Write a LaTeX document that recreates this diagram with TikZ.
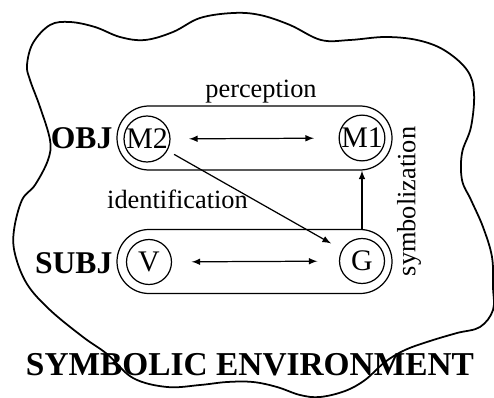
\documentclass[tikz,border=0pt]{standalone}
\usepackage{fontspec}
\setmainfont{Liberation Serif}
\usepackage{tikz}
\usetikzlibrary{arrows}

\begin{document}
\begin{tikzpicture}[line width=0.7pt,
    sym/.style={draw=black, circle, minimum size=0.9cm, inner sep=0pt, font=\fontsize{17}{17}\selectfont},
    lane/.style={draw=black, rounded corners=0.64cm, minimum width=5.5cm, minimum height=1.28cm},
    side/.style={anchor=east, inner sep=0pt, font=\fontsize{18}{18}\selectfont\bfseries},
    rel/.style={inner sep=0pt, font=\fontsize{15}{15}\selectfont}]
    \useasboundingbox (0,0) rectangle (9.88,-7.94);

    % environment outline
    \draw[line width=1pt] plot[smooth cycle, tension=0.6] coordinates {
        (0.54,-1.30) (0.66,-0.86) (1.00,-0.50) (1.40,-0.44) (1.90,-0.54) (2.40,-0.74) (2.90,-0.80)
        (3.46,-0.64) (4.00,-0.36) (4.66,-0.26) (5.20,-0.30) (5.80,-0.50) (6.42,-0.80) (7.00,-0.80)
        (7.70,-0.74) (8.34,-0.80) (8.88,-1.00) (9.34,-1.40) (9.48,-1.86) (9.42,-2.54) (9.24,-3.06)
        (9.24,-3.60) (9.42,-4.00) (9.66,-4.54) (9.84,-5.14) (9.86,-5.74) (9.86,-6.20) (9.60,-6.54)
        (9.14,-6.66) (8.60,-6.82) (8.10,-7.00) (7.70,-7.24) (7.30,-7.60) (6.90,-7.82) (6.40,-7.94)
        (6.00,-7.90) (5.54,-7.74) (5.06,-7.64) (4.54,-7.64) (4.00,-7.70) (3.34,-7.74) (2.66,-7.56)
        (2.14,-7.08) (1.66,-6.74) (1.00,-6.20) (0.54,-5.68) (0.30,-5.08) (0.28,-4.60) (0.44,-4.00)
        (0.70,-3.70) (0.96,-3.20) (1.00,-2.80) (0.80,-2.14) (0.60,-1.60)};

    \node[lane] (box_obj)  at (5.09, -2.76) {};
    \node[lane] (box_subj) at (5.09, -5.23) {};

    \node[sym] (obj_m2)  at (2.94, -2.78) {M2};
    \node[sym] (obj_m1)  at (7.24, -2.76) {M1};
    \node[sym] (subj_v)  at (2.98, -5.24) {V};
    \node[sym] (subj_g)  at (7.24, -5.22) {G};

    \node[side] (lbl_obj)  at (2.26, -2.76) {OBJ};
    \node[side] (lbl_subj) at (2.26, -5.26) {SUBJ};

    \node[rel, anchor=base] (lbl_perc)  at (5.22, -1.95) {perception};
    \node[rel, anchor=base] (lbl_ident) at (3.55, -4.16) {identification};
    \node[rel, rotate=90]   (lbl_symb)  at (8.18, -4.03) {symbolization};

    \node[inner sep=0pt, anchor=base, font=\fontsize{19}{19}\selectfont\bfseries] (lbl_env) at (5.00, -7.50) {SYMBOLIC ENVIRONMENT};

    \draw[<->,>=latex, shorten <=0.37cm, shorten >=0.49cm] (obj_m2) -- (obj_m1);
    \draw[<->,>=latex, shorten <=0.39cm, shorten >=0.43cm] (subj_v) -- (subj_g);

    \draw[->,>=latex, shorten <=0.15cm, shorten >=0.25cm] (obj_m2) -- (subj_g);

    \draw[->,>=latex] (box_subj.north -| subj_g) -- (box_obj.south -| obj_m1);
\end{tikzpicture}
\end{document}
